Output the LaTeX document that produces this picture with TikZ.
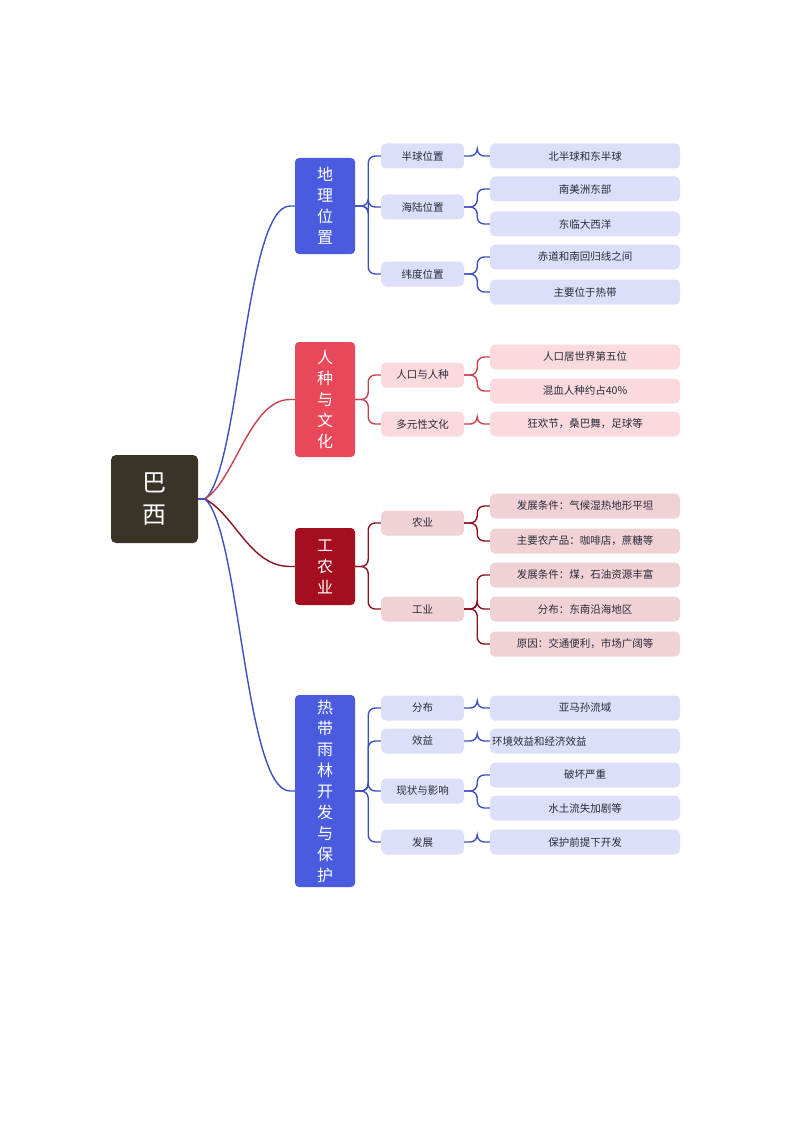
\documentclass[tikz,border=0pt]{standalone}
\usepackage{fontspec}
\setmainfont{Noto Sans CJK SC}
\definecolor{rootc}{HTML}{3A3328}
\definecolor{bl}{HTML}{4A5BE0}
\definecolor{blL}{HTML}{3D4FC0}
\definecolor{blF}{HTML}{DCDFFA}
\definecolor{rd}{HTML}{E8485A}
\definecolor{rdL}{HTML}{C84050}
\definecolor{rdF}{HTML}{FADADD}
\definecolor{dr}{HTML}{A50E1E}
\definecolor{drL}{HTML}{8B1020}
\definecolor{drF}{HTML}{F0D2D5}
\definecolor{txt}{HTML}{2A2A3A}
\begin{document}
\begin{tikzpicture}[x=1pt,y=-1pt,
 l1/.style={draw=none,rounded corners=4pt,minimum width=60pt,text=white,font=\fontsize{16}{21}\selectfont,align=center,inner sep=0pt},
 l2/.style={rounded corners=5pt,minimum width=83pt,minimum height=25pt,font=\fontsize{10.5}{12}\selectfont,text=txt,inner sep=0pt},
 l3/.style={rounded corners=5pt,minimum width=190pt,minimum height=25pt,font=\fontsize{10.5}{12}\selectfont,text=txt,inner sep=0pt},
 ln/.style={line width=1.4pt,rounded corners=7pt}]
\useasboundingbox (0,0) rectangle (794,1123);
\node[fill=rootc,rounded corners=5pt,minimum width=87pt,minimum height=88pt,text=white,font=\fontsize{24}{32}\selectfont,align=center] (root) at (154.5,499) {巴\\西};
% level 1
\node[l1,fill=bl,minimum height=96pt] (a) at (325,206) {地\\理\\位\\置};
\node[l1,fill=rd,minimum height=115pt] (b) at (325,399.5) {人\\种\\与\\文\\化};
\node[l1,fill=dr,minimum height=77pt] (c) at (325,566.5) {工\\农\\业};
\node[l1,fill=bl,minimum height=192pt] (d) at (325,791) {热\\带\\雨\\林\\开\\发\\与\\保\\护};
% level 2
\node[l2,fill=blF] (a1) at (422.5,156) {半球位置};
\node[l2,fill=blF] (a2) at (422.5,207) {海陆位置};
\node[l2,fill=blF] (a3) at (422.5,274) {纬度位置};
\node[l2,fill=rdF] (b1) at (422.5,375) {人口与人种};
\node[l2,fill=rdF] (b2) at (422.5,424) {多元性文化};
\node[l2,fill=drF] (c1) at (422.5,523) {农业};
\node[l2,fill=drF] (c2) at (422.5,609) {工业};
\node[l2,fill=blF] (d1) at (422.5,708) {分布};
\node[l2,fill=blF] (d2) at (422.5,741) {效益};
\node[l2,fill=blF] (d3) at (422.5,791) {现状与影响};
\node[l2,fill=blF] (d4) at (422.5,842) {发展};
% level 3
\node[l3,fill=blF] (a11) at (585,156) {北半球和东半球};
\node[l3,fill=blF] (a21) at (585,189) {南美洲东部};
\node[l3,fill=blF] (a22) at (585,224) {东临大西洋};
\node[l3,fill=blF] (a31) at (585,257) {赤道和南回归线之间};
\node[l3,fill=blF] (a32) at (585,292) {主要位于热带};
\node[l3,fill=rdF] (b11) at (585,357) {人口居世界第五位};
\node[l3,fill=rdF] (b12) at (585,391) {混血人种约占40\%};
\node[l3,fill=rdF] (b21) at (585,424) {狂欢节，桑巴舞，足球等};
\node[l3,fill=drF] (c11) at (585,506) {发展条件：气候湿热地形平坦};
\node[l3,fill=drF] (c12) at (585,541) {主要农产品：咖啡店，蔗糖等};
\node[l3,fill=drF] (c21) at (585,575) {发展条件：煤，石油资源丰富};
\node[l3,fill=drF] (c22) at (585,609) {分布：东南沿海地区};
\node[l3,fill=drF] (c23) at (585,644) {原因：交通便利，市场广阔等};
\node[l3,fill=blF] (d11) at (585,708) {亚马孙流域};
\node[l3,fill=blF,align=left,text width=186pt] (d21) at (585,741) {环境效益和经济效益};
\node[l3,fill=blF] (d31) at (585,775) {破坏严重};
\node[l3,fill=blF] (d32) at (585,808) {水土流失加剧等};
\node[l3,fill=blF] (d41) at (585,842) {保护前提下开发};
% root connectors
\coordinate (r0) at (205,499);
\draw[line width=1.4pt,blL] (root.east) -- (r0);
\draw[line width=1.4pt,blL] (r0) .. controls (240,470) and (245,206) .. (290,206) -- (a.west);
\draw[line width=1.4pt,rdL] (r0) .. controls (235,480) and (250,399.5) .. (290,399.5) -- (b.west);
\draw[line width=1.4pt,drL] (r0) .. controls (235,515) and (250,566.5) .. (290,566.5) -- (c.west);
\draw[line width=1.4pt,blL] (r0) .. controls (240,530) and (245,791) .. (290,791) -- (d.west);
% l1 -> l2
\foreach \s/\t in {a/a1,a/a2,a/a3,d/d1,d/d2,d/d3,d/d4}{\draw[ln,blL] (\s.east) -- ++(13,0) |- (\t.west);}
\foreach \s/\t in {b/b1,b/b2}{\draw[ln,rdL] (\s.east) -- ++(13,0) |- (\t.west);}
\foreach \s/\t in {c/c1,c/c2}{\draw[ln,drL] (\s.east) -- ++(13,0) |- (\t.west);}
% l2 -> l3
\foreach \s/\t in {a1/a11,a2/a21,a2/a22,a3/a31,a3/a32,d1/d11,d2/d21,d3/d31,d3/d32,d4/d41}{\draw[ln,blL] (\s.east) -- ++(13,0) |- (\t.west);}
\foreach \s/\t in {b1/b11,b1/b12,b2/b21}{\draw[ln,rdL] (\s.east) -- ++(13,0) |- (\t.west);}
\foreach \s/\t in {c1/c11,c1/c12,c2/c21,c2/c22,c2/c23}{\draw[ln,drL] (\s.east) -- ++(13,0) |- (\t.west);}
\end{tikzpicture}
\end{document}
